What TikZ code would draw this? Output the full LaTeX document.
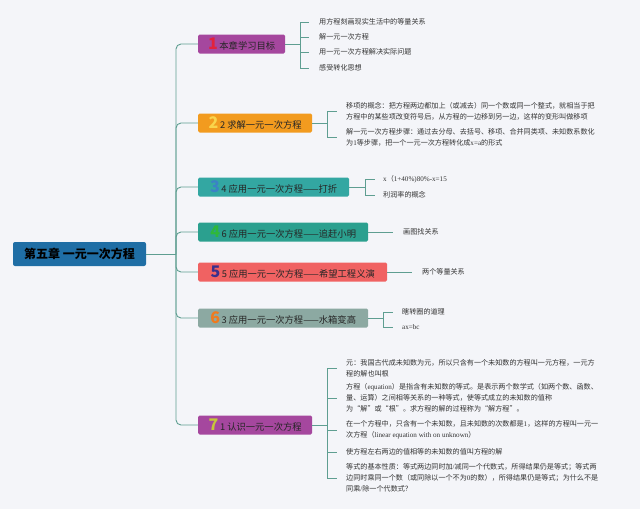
\documentclass[tikz,border=0pt]{standalone}
\usepackage{fontspec}
\setmainfont{Noto Sans CJK SC}
\newfontfamily\lat{Liberation Serif}
\definecolor{bg}{HTML}{F4F5F9}
\definecolor{conn}{HTML}{5E9E91}
\definecolor{rootc}{HTML}{1F6EA5}
\definecolor{pc}{HTML}{A5479E}
\definecolor{oc}{HTML}{F29B1F}
\definecolor{tc}{HTML}{33A7A2}
\definecolor{tgc}{HTML}{2BA08F}
\definecolor{rc}{HTML}{F06262}
\definecolor{gc}{HTML}{8CA9A2}
\definecolor{nA}{HTML}{E2233D}
\definecolor{nB}{HTML}{F9D44C}
\definecolor{nC}{HTML}{3B82C6}
\definecolor{nD}{HTML}{2FB83A}
\definecolor{nE}{HTML}{3A2F8C}
\definecolor{nF}{HTML}{F07A1E}
\definecolor{nG}{HTML}{C6C63A}
\newcommand{\bignum}[2]{{\fontsize{16}{16}\selectfont\bfseries\color{#1}#2}}
\begin{document}
\begin{tikzpicture}[x=1pt,y=-1pt,
  conn/.style={draw=conn, line width=0.9pt},
  rootbox/.style={rectangle, rounded corners=2pt, fill=rootc, minimum width=133pt, minimum height=24pt, inner sep=0pt, text=black, font=\fontsize{12}{14}\selectfont\bfseries},
  branchbox/.style={rectangle, rounded corners=1.5pt, anchor=west, minimum height=19pt, inner sep=0pt, text=black!85, font=\fontsize{9.3}{11}\selectfont},
  leaf/.style={anchor=west, inner sep=0pt, align=left, text=black!80, font=\fontsize{7.1}{11}\selectfont}
]
\useasboundingbox[fill=bg] (0,0) rectangle (640,509);

\node[rootbox] (root) at (79.5,254) {第五章 一元一次方程};

\node[branchbox, fill=pc, minimum width=87pt] (b1) at (198,44) {\bignum{nA}{1}\,本章学习目标};
\node[branchbox, fill=oc, minimum width=114pt] (b2) at (198,123) {\bignum{nB}{2}\,2 求解一元一次方程};
\node[branchbox, fill=tc, minimum width=151pt] (b3) at (198,187) {\bignum{nC}{3}\,4 应用一元一次方程——打折};
\node[branchbox, fill=tgc, minimum width=170pt] (b4) at (198,232) {\bignum{nD}{4}\,6 应用一元一次方程——追赶小明};
\node[branchbox, fill=rc, minimum width=189pt] (b5) at (198,272) {\bignum{nE}{5}\,5 应用一元一次方程——希望工程义演};
\node[branchbox, fill=gc, minimum width=170pt] (b6) at (198,318) {\bignum{nF}{6}\,3 应用一元一次方程——水箱变高};
\node[branchbox, fill=pc, minimum width=114pt] (b7) at (198,425) {\bignum{nG}{7}\,1 认识一元一次方程};

\coordinate (tr) at (176,254);
\draw[conn] (root.east) -- (tr);
\foreach \b in {b1,b2,b3,b4,b5,b6,b7}
  \draw[conn, rounded corners=5pt] (tr) |- (\b.west);

% branch 1 leaves
\node[leaf] (l11) at (319,22) {用方程刻画现实生活中的等量关系};
\node[leaf] (l12) at (319,37) {解一元一次方程};
\node[leaf] (l13) at (319,52) {用一元一次方程解决实际问题};
\node[leaf] (l14) at (319,68) {感受转化思想};
\foreach \l in {l11,l12,l13,l14}
  \draw[conn, shorten >=10pt] (b1.east) -- ++(15,0) |- (\l.west);

% branch 2 leaves
\node[leaf] (l21) at (346,111) {移项的概念：把方程两边都加上（或减去）同一个数或同一个整式，就相当于把\\方程中的某些项改变符号后，从方程的一边移到另一边，这样的变形叫做移项};
\node[leaf] (l22) at (346,137) {解一元一次方程步骤：通过去分母、去括号、移项、合并同类项、未知数系数化\\为{\lat 1}等步骤，把一个一元一次方程转化成{\lat x=a}的形式};
\foreach \l in {l21,l22}
  \draw[conn, shorten >=9pt] (b2.east) -- ++(15,0) |- (\l.west);

% branch 3 leaves
\node[leaf] (l31) at (383,179) {{\lat x}（{\lat 1+40\%)80\%-x=15}};
\node[leaf] (l32) at (383,195) {利润率的概念};
\foreach \l in {l31,l32}
  \draw[conn, shorten >=8pt] (b3.east) -- ++(16,0) |- (\l.west);

% branch 4 and 5 leaves
\node[leaf] (l41) at (403,232) {画图找关系};
\draw[conn, shorten >=10pt] (b4.east) -- (l41.west);
\node[leaf] (l51) at (422,272) {两个等量关系};
\draw[conn, shorten >=10pt] (b5.east) -- (l51.west);

% branch 6 leaves
\node[leaf] (l61) at (402,312) {瞎转圈的道理};
\node[leaf] (l62) at (402,327) {{\lat ax=bc}};
\foreach \l in {l61,l62}
  \draw[conn, shorten >=9pt] (b6.east) -- ++(15,0) |- (\l.west);

% branch 7 leaves
\node[leaf] (l71) at (346,368) {元：我国古代成未知数为元，所以只含有一个未知数的方程叫一元方程，一元方\\程的解也叫根};
\node[leaf] (l72) at (346,398) {方程（{\lat equation}）是指含有未知数的等式。是表示两个数学式（如两个数、函数、\\量、运算）之间相等关系的一种等式，使等式成立的未知数的值称\\为“解”或“根”。求方程的解的过程称为“解方程”。};
\node[leaf] (l73) at (346,430) {在一个方程中，只含有一个未知数，且未知数的次数都是{\lat 1}，这样的方程叫一元一\\次方程（{\lat linear equation with on unknown}）};
\node[leaf] (l74) at (346,452) {使方程左右两边的值相等的未知数的值叫方程的解};
\node[leaf] (l75) at (346,478) {等式的基本性质：等式两边同时加{\lat /}减同一个代数式，所得结果仍是等式；等式两\\边同时乘同一个数（或同除以一个不为{\lat 0}的数），所得结果仍是等式；为什么不是\\同乘{\lat /}除一个代数式？};
\foreach \l in {l71,l72,l73,l74,l75}
  \draw[conn, shorten >=9pt] (b7.east) -- ++(15,0) |- (\l.west);
\end{tikzpicture}
\end{document}
